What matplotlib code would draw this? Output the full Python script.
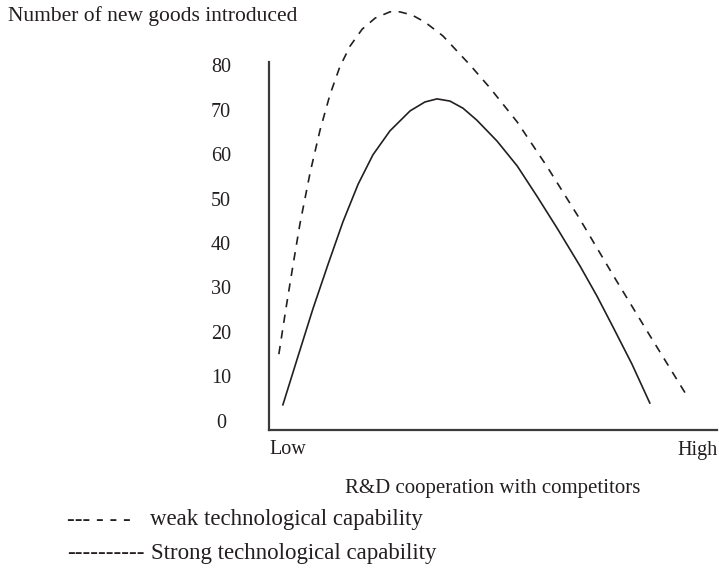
import matplotlib
matplotlib.use("Agg")
import matplotlib.pyplot as plt
from matplotlib.transforms import blended_transform_factory

# 数値データ
y_tick_values = [0, 10, 20, 30, 40, 50, 60, 70, 80]
y_tick_labels = ['0', '10', '20', '30', '40', '50', '60', '70', '80']

# Strong technological capability（実線）
strong_x = [3.1, 6.5, 9.8, 13.2, 16.5, 19.9, 23.2, 27.0, 31.5, 34.8, 37.5, 40.4,
            43.3, 46.4, 50.9, 55.4, 59.8, 64.3, 69.4, 73.2, 76.8, 81.0, 85.0]
strong_y = [4.1, 15.1, 25.7, 35.8, 45.3, 53.8, 60.4, 65.8, 70.3, 72.3, 73.0, 72.5,
            70.9, 68.2, 63.5, 57.9, 51.1, 43.9, 35.4, 28.6, 21.6, 13.3, 4.5]

# weak technological capability（破線）
weak_x = [2.2, 3.8, 5.4, 6.9, 9.2, 11.4, 13.6, 15.8, 18.1, 20.8, 23.7, 27.0, 29.2,
          31.9, 34.8, 38.8, 44.9, 49.3, 55.4, 62.1, 69.4, 76.8, 84.4, 93.3]
weak_y = [15.5, 25.9, 35.8, 44.8, 56.5, 66.0, 73.9, 80.2, 84.9, 88.7, 91.2, 92.6, 92.6,
          91.9, 90.3, 87.2, 80.6, 75.5, 67.8, 57.7, 45.9, 33.3, 20.7, 6.1]

title = 'Number of new goods introduced'
x_label = 'R&D cooperation with competitors'
legend_weak = 'weak technological capability'
legend_strong = 'Strong technological capability'

plt.rcParams['font.family'] = ['Liberation Serif', 'DejaVu Serif']
ink = '#231f20'

W, H = 719, 572
fig = plt.figure(figsize=(W / 100, H / 100), dpi=100)


def fx(px):
    return px / W


def fy(py):
    return 1 - py / H


# 軸の位置（ピクセルで指定）
ax_left, ax_right, ax_bottom, ax_top = 269, 717, 430, 5
ax = fig.add_axes([fx(ax_left), fy(ax_bottom), fx(ax_right) - fx(ax_left), fy(ax_top) - fy(ax_bottom)])

px_per_unit = 4.44
y0_px = 423
ymin = -(ax_bottom - y0_px) / px_per_unit
ymax = (y0_px - ax_top) / px_per_unit
ax.set_xlim(0, 100)
ax.set_ylim(ymin, ymax)

ax.plot(weak_x, weak_y, color=ink, lw=1.2, linestyle=(0, (5, 4.5)))
ax.plot(strong_x, strong_y, color=ink, lw=1.2)

for s in ['top', 'right']:
    ax.spines[s].set_visible(False)
ax.spines['left'].set_bounds(ymin, (y0_px - 62) / px_per_unit)
for s in ['left', 'bottom']:
    ax.spines[s].set_color('#3a3a3a')
    ax.spines[s].set_linewidth(1.6)
ax.set_xticks([])
ax.set_yticks([])
ax.patch.set_visible(False)

# y軸ラベル（数字）
trans = blended_transform_factory(ax.transAxes, ax.transData)
for v, lab in zip(y_tick_values, y_tick_labels):
    ax.text((221 - ax_left) / (ax_right - ax_left), v, lab, transform=trans,
            ha='center', va='center', fontsize=14.5, color=ink, clip_on=False)

fig.text(fx(8), fy(16), title, ha='left', va='center', fontsize=15.5, color=ink)
fig.text(fx(269), fy(450), 'Low', ha='left', va='center', fontsize=14.5, color=ink)
fig.text(fx(718), fy(450), 'High', ha='right', va='center', fontsize=14.5, color=ink)
fig.text(fx(493), fy(489), x_label, ha='center', va='center', fontsize=15, color=ink)

# 凡例（テキストで表現）
fig.text(fx(67), fy(520), '--- - - -', ha='left', va='center', fontsize=16.5, color=ink)
fig.text(fx(150), fy(520), legend_weak, ha='left', va='center', fontsize=16.5, color=ink)
fig.text(fx(67), fy(554), '----------', ha='left', va='center', fontsize=16.5, color=ink)
fig.text(fx(151), fy(554), legend_strong, ha='left', va='center', fontsize=16.5, color=ink)

fig.savefig('out.png', dpi=100)
